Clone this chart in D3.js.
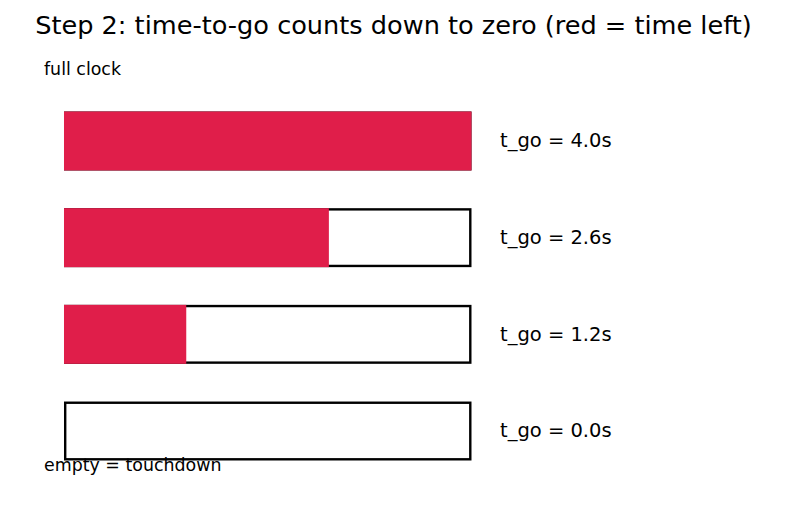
<!DOCTYPE html>
<html>
<head>
<meta charset="utf-8">
<script src="https://cdn.jsdelivr.net/npm/d3@7"></script>
<style>
  body { margin: 0; background: #fff; }
  text { font-family: "DejaVu Sans", sans-serif; fill: #000; }
</style>
</head>
<body>
<div id="chart"></div>
<script>
// time-to-go countdown states
const labels = ["t_go = 4.0s", "t_go = 2.6s", "t_go = 1.2s", "t_go = 0.0s"];
const tgo = [4.0, 2.6, 1.2, 0.0];
const tMax = 4.0;

const W = 787, H = 512;
const svg = d3.select("#chart").append("svg")
    .attr("width", W).attr("height", H);

const x = d3.scaleLinear().domain([0, tMax]).range([64, 471.5]);
const y = d3.scaleBand().domain(d3.range(tgo.length))
    .range([111.5, 460.5]).paddingInner(0.39).paddingOuter(0);

svg.append("text").attr("x", 393.5).attr("y", 33.5)
    .attr("text-anchor", "middle").style("font-size", "25.6px")
    .text("Step 2: time-to-go counts down to zero (red = time left)");

const rows = svg.selectAll("g.row").data(tgo).enter().append("g").attr("class", "row");

// outline of the full clock
rows.append("rect")
    .attr("x", x(0) + 1.2).attr("y", (d, i) => y(i) + 1.2)
    .attr("width", x(tMax) - x(0) - 2.4).attr("height", y.bandwidth() - 2.4)
    .attr("fill", "none").attr("stroke", "#000").attr("stroke-width", 2.4);

// remaining time
rows.append("rect")
    .attr("x", x(0)).attr("y", (d, i) => y(i))
    .attr("width", d => x(d) - x(0)).attr("height", y.bandwidth())
    .attr("fill", "#e01e4a");

rows.append("text")
    .attr("x", 500).attr("y", (d, i) => y(i) + y.bandwidth() / 2)
    .attr("dy", "0.33em").style("font-size", "19.5px")
    .text((d, i) => labels[i]);

svg.append("text").attr("x", 44).attr("y", 74.5).style("font-size", "17.4px").text("full clock");
svg.append("text").attr("x", 44).attr("y", 470.5).style("font-size", "17.4px").text("empty = touchdown");
</script>
</body>
</html>
